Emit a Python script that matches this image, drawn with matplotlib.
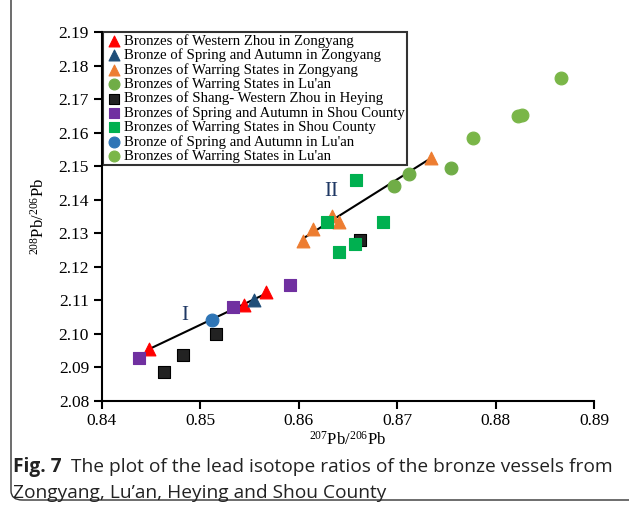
import numpy as np
import matplotlib.pyplot as plt
from matplotlib.patches import FancyBboxPatch

plt.rcParams['font.family'] = ['Liberation Serif', 'DejaVu Serif']
plt.rcParams['mathtext.fontset'] = 'custom'
plt.rcParams['mathtext.rm'] = 'Liberation Serif'
plt.rcParams['mathtext.it'] = 'Liberation Serif:italic'
plt.rcParams['mathtext.bf'] = 'Liberation Serif:bold'

# Zongyang
wz_zy_x = [0.8448, 0.8545, 0.8567]
wz_zy_y = [2.0955, 2.1087, 2.1125]
sa_zy_x = [0.8555]
sa_zy_y = [2.1100]
ws_zy_x = [0.8605, 0.8615, 0.8634, 0.8641, 0.8734]
ws_zy_y = [2.1278, 2.1313, 2.1352, 2.1335, 2.1524]
# Lu'an
ws_la1_x = [0.8697, 0.8712, 0.8755]
ws_la1_y = [2.1440, 2.1477, 2.1495]
sa_la_x = [0.8512]
sa_la_y = [2.1040]
ws_la2_x = [0.8777, 0.8823, 0.8827, 0.8866]
ws_la2_y = [2.1583, 2.1650, 2.1654, 2.1763]
# Heying
sw_hy_x = [0.8463, 0.8483, 0.8516, 0.8662]
sw_hy_y = [2.0887, 2.0936, 2.1000, 2.1281]
# Shou County
sa_sc_x = [0.8438, 0.8533, 0.8591]
sa_sc_y = [2.0927, 2.1081, 2.1147]
ws_sc_x = [0.8629, 0.8641, 0.8657, 0.8658, 0.8686]
ws_sc_y = [2.1334, 2.1244, 2.1269, 2.1458, 2.1335]

xticks = [0.84, 0.85, 0.86, 0.87, 0.88, 0.89]
yticks = [2.08, 2.09, 2.10, 2.11, 2.12, 2.13, 2.14, 2.15, 2.16, 2.17, 2.18, 2.19]

sans = ['Open Sans', 'Noto Sans', 'DejaVu Sans']

fig = plt.figure(figsize=(6.29, 5.11), dpi=100)
ax = fig.add_axes([0.1614, 0.2153, 0.783, 0.7221])

ms = 85
series = [
    (wz_zy_x, wz_zy_y, '^', '#FF0000', 'Bronzes of Western Zhou in Zongyang'),
    (sa_zy_x, sa_zy_y, '^', '#1F4E79', 'Bronze of Spring and Autumn in Zongyang'),
    (ws_zy_x, ws_zy_y, '^', '#ED7D31', 'Bronzes of Warring States in Zongyang'),
    (ws_la1_x, ws_la1_y, 'o', '#70AD47', "Bronzes of Warring States in Lu'an"),
    (sw_hy_x, sw_hy_y, 's', '#222222', 'Bronzes of Shang- Western Zhou in Heying'),
    (sa_sc_x, sa_sc_y, 's', '#7030A0', 'Bronzes of Spring and Autumn in Shou County'),
    (ws_sc_x, ws_sc_y, 's', '#00B050', 'Bronzes of Warring States in Shou County'),
    (sa_la_x, sa_la_y, 'o', '#2E75B6', "Bronze of Spring and Autumn in Lu'an"),
    (ws_la2_x, ws_la2_y, 'o', '#7AB648', "Bronzes of Warring States in Lu'an"),
]
for x, y, m, c, lab in series:
    ec = '#000000' if c == '#222222' else c
    ax.scatter(x, y, marker=m, s=ms, c=c, edgecolors=ec, linewidths=0.8,
               label=lab, zorder=3)

# trend lines fitted to the Zongyang groups
gx1 = np.array(wz_zy_x + sa_zy_x)
gy1 = np.array(wz_zy_y + sa_zy_y)
k1, b1 = np.polyfit(gx1, gy1, 1)
xx1 = np.array([gx1.min(), gx1.max()])
ax.plot(xx1, k1 * xx1 + b1, color='black', lw=1.5, zorder=2)
gx2 = np.array(ws_zy_x)
gy2 = np.array(ws_zy_y)
k2, b2 = np.polyfit(gx2, gy2, 1)
xx2 = np.array([gx2.min(), gx2.max()])
ax.plot(xx2, k2 * xx2 + b2, color='black', lw=1.5, zorder=2)

ax.text(0.8484, 2.1055, 'I', fontsize=15, color='#1F3864', ha='center', va='center')
ax.text(0.8633, 2.1425, 'II', fontsize=15, color='#1F3864', ha='center', va='center')

ax.set_xlim(0.84, 0.89)
ax.set_ylim(2.08, 2.19)
ax.set_xticks(xticks)
ax.set_xticklabels(['%.2f' % v for v in xticks])
ax.set_yticks(yticks)
ax.set_yticklabels(['%.2f' % v for v in yticks])
for s in ['top', 'right']:
    ax.spines[s].set_visible(False)
for s in ['left', 'bottom']:
    ax.spines[s].set_linewidth(1.5)
ax.tick_params(direction='out', length=6, width=1.5, labelsize=12.5, pad=3)
for lbl in ax.get_xticklabels() + ax.get_yticklabels():
    lbl.set_fontfamily('Liberation Serif')

ax.set_xlabel(r'$^{207}$Pb/$^{206}$Pb', fontsize=12, labelpad=1)
ax.set_ylabel(r'$^{208}$Pb/$^{206}$Pb', fontsize=12, labelpad=8)

leg = ax.legend(loc='upper left', bbox_to_anchor=(0.003, 1.0), frameon=True,
                fancybox=False, edgecolor='black', prop={'size': 10.6},
                handletextpad=0.1, handlelength=1.2, labelspacing=0.04,
                borderpad=0.15, borderaxespad=0.0, markerscale=0.85)
leg.get_frame().set_linewidth(1.5)

frame = FancyBboxPatch((11 / 629, 11 / 511), 640 / 629, 520 / 511,
                       boxstyle='round,pad=0,rounding_size=0.018',
                       transform=fig.transFigure, fill=False, edgecolor='#333333',
                       lw=1.0, clip_on=False)
fig.patches.append(frame)

cap_size = 13.8
t1 = fig.text(13 / 629, 1 - 467 / 511, 'Fig. 7', family=sans, fontsize=cap_size,
              fontweight='bold', va='center', ha='left', color='#222222')
fig.canvas.draw()
bb = t1.get_window_extent()
fig.text((bb.x1 + 9) / 629, 1 - 467 / 511,
         'The plot of the lead isotope ratios of the bronze vessels from',
         family=sans, fontsize=cap_size, va='center', ha='left', color='#222222')
fig.text(13 / 629, 1 - 493 / 511, 'Zongyang, Lu\u2019an, Heying and Shou County',
         family=sans, fontsize=cap_size, va='center', ha='left', color='#222222')

fig.savefig('out.png', dpi=100)
